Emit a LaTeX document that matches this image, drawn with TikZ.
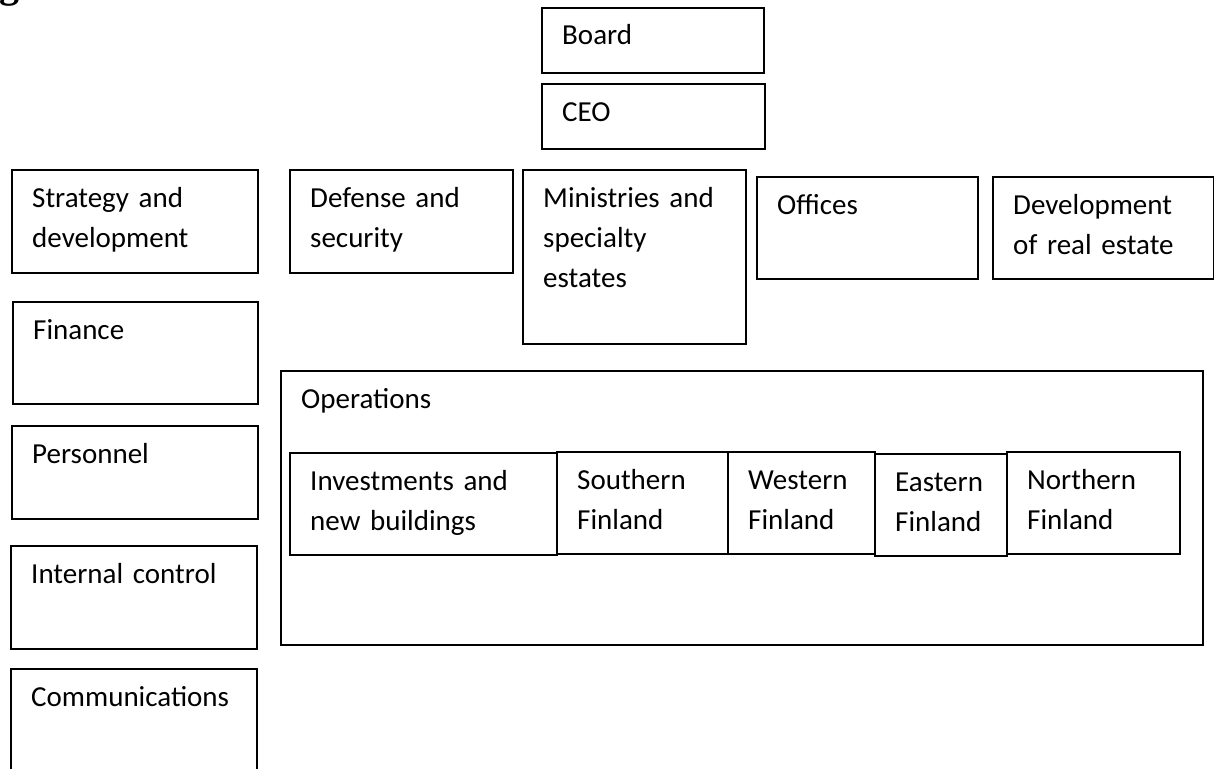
\documentclass[tikz,border=0pt]{standalone}
\usepackage{fontspec}
\setmainfont{Carlito}
\newfontfamily\headfont{Liberation Serif}
\tikzset{
  orgbox/.style={draw, line width=1.6pt, inner sep=0pt, anchor=north west},
  orglbl/.style={anchor=base west, inner sep=0pt, text width=260pt, align=left,
                 font=\fontsize{29}{40}\selectfont},
}
\newcommand{\orgunit}[6]{%
  \node[orgbox, minimum width=#4pt, minimum height=#5pt] (#1) at (#2,#3) {};
  \node[orglbl] (#1-t) at ([xshift=21pt,yshift=-38pt]#1.north west) {#6};
}
\begin{document}
\begin{tikzpicture}[x=1pt,y=-1pt]
\useasboundingbox (0,0) rectangle (1214,768);
\clip (0,0) rectangle (1214,768);
\node[anchor=base west, inner sep=0pt, font=\headfont\bfseries\fontsize{40}{44}\selectfont] (head) at (-1,-2) {g};
\orgunit{board}{541}{7}{222}{65}{Board}
\orgunit{ceo}{541}{83}{223}{65}{CEO}
\orgunit{strat}{11}{169}{246}{103}{Strategy and\\development}
\orgunit{def}{289}{169}{223}{103}{Defense and\\security}
\orgunit{min}{522}{169}{223}{174}{Ministries and\\specialty\\estates}
\orgunit{off}{756}{176}{221}{102}{Offices}
\orgunit{dev}{992}{176}{221}{102}{Development\\of real estate}
\orgunit{fin}{12}{301}{245}{102}{Finance}
\orgunit{pers}{11}{425}{246}{93}{Personnel}
\orgunit{intc}{10}{545}{246}{103}{Internal control}
\orgunit{comm}{10}{668}{246}{130}{Communications}
\orgunit{ops}{280}{370}{922}{274}{Operations}
\orgunit{inv}{289}{452}{267}{102}{Investments and\\new buildings}
\orgunit{south}{556}{451}{171}{102}{Southern\\Finland}
\orgunit{west}{727}{451}{147}{102}{Western\\Finland}
\orgunit{east}{874}{453}{132}{102}{Eastern\\Finland}
\orgunit{north}{1006}{451}{173}{102}{Northern\\Finland}
\end{tikzpicture}
\end{document}
